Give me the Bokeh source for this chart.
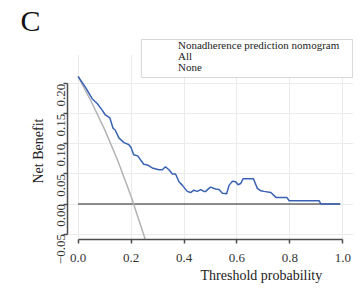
import math
from bokeh.plotting import figure
from bokeh.models import FixedTicker, Legend, LegendItem, Range1d, Title, BoxAnnotation
from bokeh.embed import file_html
from bokeh.resources import INLINE

# ---- data ----
threshold = [0.000, 0.028, 0.053, 0.072, 0.091, 0.103, 0.120, 0.132, 0.140, 0.154,
             0.173, 0.191, 0.200, 0.210, 0.225, 0.248, 0.262, 0.280, 0.305, 0.318,
             0.330, 0.343, 0.356, 0.368, 0.381, 0.394, 0.412, 0.425, 0.437, 0.450,
             0.463, 0.475, 0.482, 0.494, 0.500, 0.519, 0.532, 0.545, 0.561, 0.570,
             0.583, 0.595, 0.604, 0.614, 0.623, 0.662, 0.677, 0.690, 0.702, 0.728,
             0.747, 0.788, 0.797, 0.910, 0.917, 0.990]
nb_nomogram = [0.212, 0.194, 0.175, 0.167, 0.156, 0.148, 0.143, 0.126, 0.123, 0.110,
               0.102, 0.099, 0.094, 0.082, 0.080, 0.066, 0.065, 0.060, 0.057, 0.057,
               0.062, 0.057, 0.050, 0.050, 0.037, 0.031, 0.021, 0.019, 0.023, 0.021,
               0.024, 0.021, 0.021, 0.026, 0.028, 0.025, 0.024, 0.018, 0.017, 0.031,
               0.038, 0.037, 0.032, 0.034, 0.042, 0.042, 0.026, 0.022, 0.021, 0.019,
               0.011, 0.011, 0.0055, 0.0055, 0.000, 0.000]

threshold_all = [0.00, 0.05, 0.10, 0.15, 0.20, 0.25, 0.27]
nb_all = [0.212, 0.170, 0.124, 0.072, 0.013, -0.054, -0.083]

threshold_none = [0.00, 0.99]
nb_none = [0.0, 0.0]

x_ticks = [0.0, 0.2, 0.4, 0.6, 0.8, 1.0]
x_tick_labels = ["0.0", "0.2", "0.4", "0.6", "0.8", "1.0"]
y_ticks = [-0.05, 0.0, 0.05, 0.10, 0.15, 0.20]
y_tick_labels = ["\u22120.05", "0.00", "0.05", "0.10", "0.15", "0.20"]

series_names = ["Nonadherence prediction nomogram", "All", "None"]
panel_label = "C"
x_title = "Threshold probability"
y_title = "Net Benefit"

SERIF = "Liberation Serif"

p = figure(width=355, height=288, output_backend="svg", toolbar_location=None,
           x_range=Range1d(-0.04, 1.04), y_range=Range1d(-0.059, 0.2768),
           min_border_left=67, min_border_right=2, min_border_top=32, min_border_bottom=49)
p.outline_line_color = None
p.background_fill_color = "white"
p.border_fill_color = "white"

# grids
p.xgrid.ticker = FixedTicker(ticks=x_ticks)
p.ygrid.ticker = FixedTicker(ticks=y_ticks)
for g in (p.xgrid, p.ygrid):
    g.grid_line_color = "#ebebeb"
    g.grid_line_width = 1

# axes
p.xaxis.ticker = FixedTicker(ticks=x_ticks)
p.yaxis.ticker = FixedTicker(ticks=y_ticks)
p.xaxis.major_label_overrides = {t: l for t, l in zip(x_ticks, x_tick_labels)}
p.yaxis.major_label_overrides = {t: l for t, l in zip(y_ticks, y_tick_labels)}
p.xaxis.bounds = (0.0, 1.0)
p.yaxis.bounds = (-0.05, 0.20)
for ax in (p.xaxis, p.yaxis):
    ax.axis_line_color = "#4d4d4d"
    ax.axis_line_width = 1.5
    ax.major_tick_line_color = "#4d4d4d"
    ax.major_tick_line_width = 1.5
    ax.major_tick_out = 4
    ax.major_tick_in = 0
    ax.minor_tick_line_color = None
    ax.major_label_text_font = SERIF
    ax.major_label_text_font_size = "13px"
    ax.major_label_text_color = "#333333"
p.xaxis.major_label_standoff = 10
p.yaxis.major_label_standoff = 2
p.yaxis.major_label_orientation = math.pi / 2

# curves
r_none = p.line(threshold_none, nb_none, line_color="#222222", line_width=1.2)
r_all = p.line(threshold_all, nb_all, line_color="#b3b3b3", line_width=1.5)
r_nom = p.line(threshold, nb_nomogram, line_color="#3a62b4", line_width=1.5)

# blank strip above the plotting panel (the legend overlaps it)
p.add_layout(BoxAnnotation(bottom=0.2476, fill_color="white", fill_alpha=1,
                           line_color=None))
# legend frame
p.add_layout(BoxAnnotation(left=0.239, right=1.036, bottom=0.2103, top=0.2735,
                           fill_color="white", fill_alpha=1,
                           line_color="#7a7a7a", line_width=1))

# legend rows (faint keys, as in the reference), one row every 11 px
key_colors = ["#8e9cc8", "#dcdcdc", "#f4f4f4"]
row_bottoms = [188, 177, 166]
for name, kc, yb in zip(series_names, key_colors, row_bottoms):
    key = p.line([], [], line_color=kc, line_width=1.5)
    lg = Legend(items=[LegendItem(label=name, renderers=[key])], location=(76, yb))
    lg.border_line_color = None
    lg.background_fill_alpha = 0
    lg.label_text_font = SERIF
    lg.label_text_font_size = "11px"
    lg.label_text_color = "#222222"
    lg.glyph_width = 24
    lg.glyph_height = 11
    lg.label_height = 11
    lg.spacing = 0
    lg.padding = 0
    lg.margin = 0
    lg.label_standoff = 11
    p.add_layout(lg)

# axis titles and panel letter
p.add_layout(Title(text=y_title, align="left", offset=56, standoff=10,
                   text_font=SERIF, text_font_size="14px", text_font_style="normal",
                   text_color="#222222"), "left")
p.add_layout(Title(text=x_title, align="left", offset=133, standoff=3,
                   text_font=SERIF, text_font_size="14px", text_font_style="normal",
                   text_color="#222222"), "below")
p.add_layout(Title(text=panel_label, align="left", offset=-47, standoff=2,
                   text_font=SERIF, text_font_size="30px", text_font_style="normal",
                   text_color="#111111"), "above")

open("out.html", "w").write(file_html(p, INLINE))
